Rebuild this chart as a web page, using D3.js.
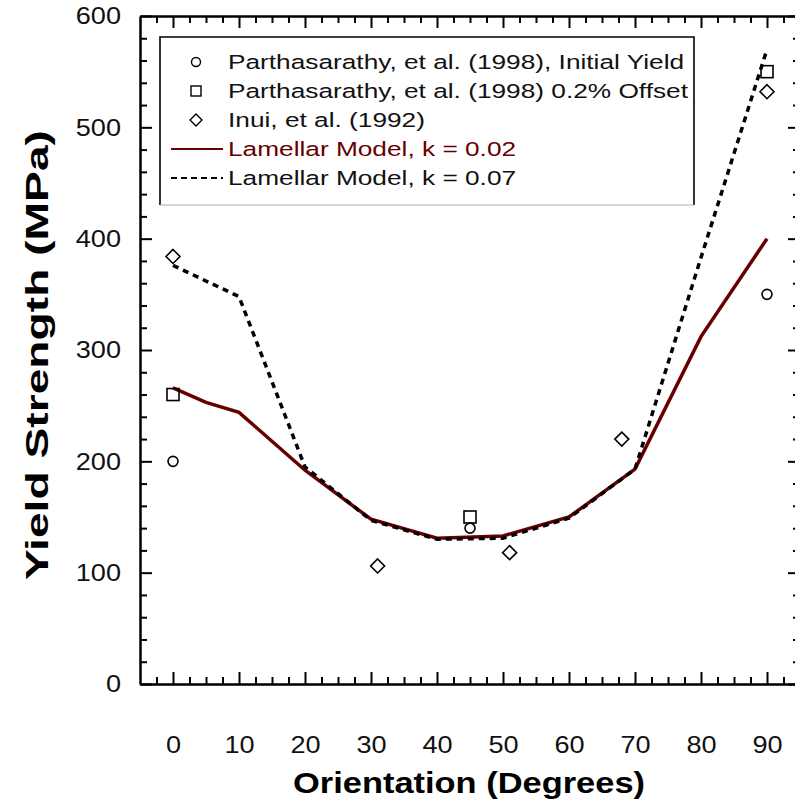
<!DOCTYPE html>
<html>
<head>
<meta charset="utf-8">
<script src="https://cdn.jsdelivr.net/npm/d3@7"></script>
<style>
  body { margin: 0; background: #fff; }
  svg { display: block; }
  text { font-family: Arial, "Liberation Sans", Helvetica, sans-serif; }
  .axis path, .axis line { stroke: #000; stroke-width: 2; }
  .axis text { font-size: 24px; fill: #111; }
</style>
</head>
<body>
<div id="chart"></div>
<script>
// Yield strength vs. lamellar orientation
const initialYield = [[0, 200], [45, 140], [90, 350]];
const offsetYield = [[0, 260], [45, 150], [90, 550]];
const inuiData = [[0, 384], [31, 106], [51, 118], [68, 220], [90, 532]];
const modelK002 = [[0, 266], [5, 253], [10, 244], [20, 192], [30, 148], [40, 131], [50, 133], [60, 150], [70, 193], [80, 312], [90, 400]];
const modelK007 = [[0, 376], [10, 348], [20, 195], [30, 147], [40, 130], [50, 131], [60, 149], [70, 193], [80, 383], [90, 570]];
const xTicks = [0, 10, 20, 30, 40, 50, 60, 70, 80, 90];
const yTicks = [0, 100, 200, 300, 400, 500, 600];
const legendLabels = [
  "Parthasarathy, et al. (1998), Initial Yield",
  "Parthasarathy, et al. (1998) 0.2% Offset",
  "Inui, et al. (1992)",
  "Lamellar Model, k = 0.02",
  "Lamellar Model, k = 0.07"
];

const width = 795, height = 805;
const plot = {left: 140, right: 800, top: 16, bottom: 684};
const maroon = "#660000";

const svg = d3.select("#chart").append("svg")
  .attr("width", width)
  .attr("height", height);

const x = d3.scaleLinear().domain([-5, 95]).range([plot.left, plot.right]);
const y = d3.scaleLinear().domain([0, 600]).range([plot.bottom, plot.top]);

const minorX = d3.range(-2.5, 95, 2.5).filter(v => Math.abs(v % 10) > 0.01);
const minorY = d3.range(20, 600, 20).filter(v => v % 100 !== 0);

// widen glyphs a bit, the lettering here runs wide
function stretch(sel, k) {
  sel.each(function () {
    const w = this.getComputedTextLength();
    d3.select(this).attr("textLength", w * k).attr("lengthAdjust", "spacingAndGlyphs");
  });
}

// frame + ticks, all pointing inward
function addAxis(gen, tf) {
  return svg.append("g").attr("class", "axis").attr("transform", tf).call(gen);
}

const xAxis = addAxis(d3.axisBottom(x).tickValues(xTicks).tickSizeInner(-12).tickSizeOuter(0).tickPadding(52), `translate(0,${plot.bottom})`);
addAxis(d3.axisBottom(x).tickValues(minorX).tickSizeInner(-7).tickSizeOuter(0).tickFormat(""), `translate(0,${plot.bottom})`);
addAxis(d3.axisTop(x).tickValues(xTicks).tickSizeInner(-12).tickSizeOuter(0).tickFormat(""), `translate(0,${plot.top})`);
addAxis(d3.axisTop(x).tickValues(minorX).tickSizeInner(-7).tickSizeOuter(0).tickFormat(""), `translate(0,${plot.top})`);
const yAxis = addAxis(d3.axisLeft(y).tickValues(yTicks).tickSizeInner(-12).tickSizeOuter(0).tickPadding(19), `translate(${plot.left},0)`);
addAxis(d3.axisLeft(y).tickValues(minorY).tickSizeInner(-7).tickSizeOuter(0).tickFormat(""), `translate(${plot.left},0)`);
addAxis(d3.axisRight(y).tickValues(yTicks).tickSizeInner(-12).tickSizeOuter(0).tickFormat(""), `translate(${plot.right},0)`);
addAxis(d3.axisRight(y).tickValues(minorY).tickSizeInner(-7).tickSizeOuter(0).tickFormat(""), `translate(${plot.right},0)`);

stretch(xAxis.selectAll("text"), 1.13);
stretch(yAxis.selectAll("text"), 1.13);

// model curves
const line = d3.line().x(d => x(d[0])).y(d => y(d[1]));

svg.append("path").datum(modelK002)
  .attr("d", line).attr("fill", "none")
  .attr("stroke", maroon).attr("stroke-width", 3.5);

svg.append("path").datum(modelK007)
  .attr("d", line).attr("fill", "none")
  .attr("stroke", "#000").attr("stroke-width", 3.5)
  .attr("stroke-dasharray", "6,5");

// experimental points
const markers = svg.append("g").attr("fill", "none").attr("stroke", "#000").attr("stroke-width", 1.6);

markers.selectAll("circle.iy").data(initialYield).enter().append("circle")
  .attr("cx", d => x(d[0])).attr("cy", d => y(d[1])).attr("r", 5);

markers.selectAll("rect.off").data(offsetYield).enter().append("rect")
  .attr("x", d => x(d[0]) - 6).attr("y", d => y(d[1]) - 6)
  .attr("width", 12).attr("height", 12);

markers.selectAll("path.inui").data(inuiData).enter().append("path")
  .attr("transform", d => `translate(${x(d[0])},${y(d[1])})`)
  .attr("d", "M0,-7L7,0L0,7L-7,0Z");

// legend: dark frame on three sides, faint bottom edge
const legend = svg.append("g").attr("transform", "translate(160,37)");
const boxW = 534, boxH = 168;
legend.append("rect")
  .attr("width", boxW).attr("height", boxH)
  .attr("fill", "#fff").attr("stroke", "none");
legend.append("path")
  .attr("d", `M0,${boxH}V0H${boxW}V${boxH}`)
  .attr("fill", "none").attr("stroke", "#000").attr("stroke-width", 1.6);
legend.append("line")
  .attr("x1", 0).attr("x2", boxW).attr("y1", boxH).attr("y2", boxH)
  .attr("stroke", "#aaa").attr("stroke-width", 1.2);

const rowY = i => 25 + i * 29;
const legendMark = legend.append("g").attr("fill", "none").attr("stroke", "#000").attr("stroke-width", 1.4);
legendMark.append("circle").attr("cx", 36).attr("cy", rowY(0)).attr("r", 4.5);
legendMark.append("rect").attr("x", 31).attr("y", rowY(1) - 5).attr("width", 10).attr("height", 10);
legendMark.append("path").attr("transform", `translate(36,${rowY(2)})`).attr("d", "M0,-6L6,0L0,6L-6,0Z");

legend.append("line").attr("x1", 11).attr("x2", 63).attr("y1", rowY(3)).attr("y2", rowY(3))
  .attr("stroke", maroon).attr("stroke-width", 2);
legend.append("line").attr("x1", 11).attr("x2", 63).attr("y1", rowY(4)).attr("y2", rowY(4))
  .attr("stroke", "#000").attr("stroke-width", 2).attr("stroke-dasharray", "6,4");

const legendText = legend.selectAll("text.lbl").data(legendLabels).enter().append("text")
  .attr("x", 68).attr("y", (d, i) => rowY(i))
  .attr("dy", "0.36em")
  .attr("font-size", 20.5)
  .attr("fill", (d, i) => i === 3 ? maroon : "#111")
  .text(d => d);
stretch(legendText, 1.28);

// axis titles
svg.append("text")
  .attr("transform", `translate(48,355) rotate(-90)`)
  .attr("text-anchor", "middle")
  .attr("font-size", 31).attr("font-weight", "bold")
  .attr("textLength", 450).attr("lengthAdjust", "spacingAndGlyphs")
  .text("Yield Strength (MPa)");

svg.append("text")
  .attr("x", 469).attr("y", 793)
  .attr("text-anchor", "middle")
  .attr("font-size", 30).attr("font-weight", "bold")
  .attr("textLength", 352).attr("lengthAdjust", "spacingAndGlyphs")
  .text("Orientation (Degrees)");
</script>
</body>
</html>
